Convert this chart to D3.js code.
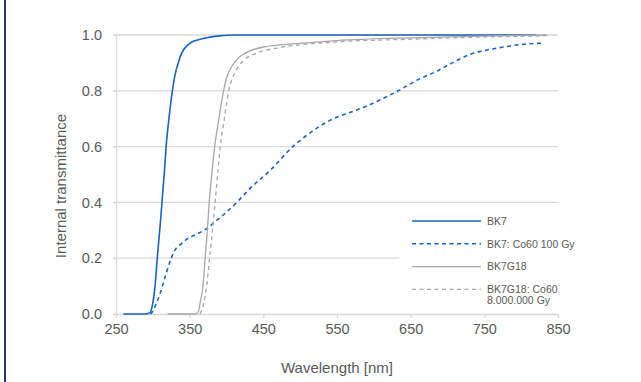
<!DOCTYPE html>
<html>
<head>
<meta charset="utf-8">
<script src="https://cdn.jsdelivr.net/npm/d3@7"></script>
<style>
  body { margin: 0; background: #fff; }
  svg text { font-family: "Liberation Sans", Arial, sans-serif; fill: #595959; }
  .axis path, .axis line { stroke: #d9d9d9; stroke-width: 1.3; }
  .axis text { font-size: 14.5px; fill: #595959; }
  .grid line { stroke: #d9d9d9; stroke-width: 1.3; }
</style>
</head>
<body>
<div id="chart"></div>
<script>
// data
const xTicks = [250, 350, 450, 550, 650, 750, 850];
const yTicks = [0, 0.2, 0.4, 0.6, 0.8, 1.0];

const bk7 = [
  [260, 0], [290, 0], [296, 0.005], [300, 0.04], [303, 0.1], [306, 0.2], [310, 0.32],
  [313, 0.42], [316, 0.52], [318, 0.6], [321, 0.68], [324, 0.75], [326.5, 0.8],
  [330, 0.855], [334.5, 0.9], [338, 0.928], [342, 0.948], [347, 0.963], [353, 0.975],
  [363, 0.984], [373, 0.99], [390, 0.997], [410, 1.0], [820, 1.0]
];
const bk7Co60 = [
  [297, 0], [300, 0.01], [305, 0.04], [310, 0.074], [316, 0.127], [325, 0.2],
  [330, 0.229], [339, 0.252], [346, 0.268], [357, 0.283], [373, 0.306], [387, 0.336],
  [400, 0.365], [414, 0.4], [430, 0.445], [459, 0.514], [490, 0.6], [515, 0.652],
  [541, 0.695], [565, 0.72], [590, 0.745], [612, 0.772], [633, 0.8], [660, 0.84], [686, 0.871],
  [710, 0.905], [731, 0.931], [755, 0.947], [776, 0.957], [800, 0.966], [830, 0.971]
];
const bk7g18 = [
  [320, 0], [358, 0], [362, 0.01], [364, 0.038], [368, 0.1], [371, 0.2], [374, 0.3],
  [376.5, 0.4], [380, 0.5], [384, 0.6], [389, 0.69], [392, 0.74], [396, 0.8],
  [400, 0.845], [405, 0.877], [414, 0.912], [427, 0.937], [450, 0.957], [495, 0.969], [550, 0.98],
  [650, 0.99], [750, 0.996], [835, 1.0]
];
const bk7g18Co60 = [
  [364, 0], [369, 0.038], [373, 0.1], [377, 0.2], [381, 0.3], [384.5, 0.4],
  [388, 0.5], [391.5, 0.6], [396.5, 0.69], [403, 0.8], [411.7, 0.867], [423, 0.908],
  [443, 0.937], [473, 0.955], [531, 0.972], [650, 0.985], [750, 0.993], [833, 0.997]
];

const seriesNames = ["BK7", "BK7: Co60 100 Gy", "BK7G18", "BK7G18: Co60|8.000.000 Gy"];

const W = 641, H = 382;
const margin = { top: 35, right: 83, bottom: 68, left: 116 };
const width = W - margin.left - margin.right;
const height = H - margin.top - margin.bottom;

const series = [
  { name: seriesNames[0], data: bk7, color: "#1563c4", width: 1.6, dash: null },
  { name: seriesNames[1], data: bk7Co60, color: "#1563c4", width: 1.6, dash: "4,3.5" },
  { name: seriesNames[2], data: bk7g18, color: "#a6a6a6", width: 1.3, dash: null },
  { name: seriesNames[3], data: bk7g18Co60, color: "#a6a6a6", width: 1.3, dash: "4,3.5" }
];

const svg = d3.select("#chart").append("svg")
  .attr("width", W).attr("height", H);

// dark frame edge on the left
svg.append("rect").attr("x", 4).attr("y", 0).attr("width", 2).attr("height", H)
  .attr("fill", "#203864");

const g = svg.append("g").attr("transform", `translate(${margin.left},${margin.top})`);

const x = d3.scaleLinear().domain([250, 850]).range([0, width]);
const y = d3.scaleLinear().domain([0, 1]).range([height, 0]);

// gridlines
g.append("g").attr("class", "grid")
  .selectAll("line").data(yTicks.slice(1)).enter().append("line")
  .attr("x1", -3).attr("x2", width)
  .attr("y1", d => y(d)).attr("y2", d => y(d));

const xAxis = g.append("g").attr("class", "axis")
  .attr("transform", `translate(0,${height})`)
  .call(d3.axisBottom(x).tickValues(xTicks).tickFormat(d3.format("d")).tickSizeInner(4).tickSizeOuter(0).tickPadding(6));
xAxis.select(".domain").attr("d", `M-3,0.5H${width}`);

const yAxis = g.append("g").attr("class", "axis")
  .call(d3.axisLeft(y).tickValues(yTicks).tickFormat(d3.format(".1f")).tickSizeInner(3).tickSizeOuter(0).tickPadding(11));

// lines
const line = d3.line().x(d => x(d[0])).y(d => y(d[1])).curve(d3.curveMonotoneX);

// legend background (covers part of grid)
const legX = 283, legY = 172;
g.append("rect").attr("x", legX).attr("y", legY).attr("width", width - legX + 1).attr("height", height - legY - 3)
  .attr("fill", "#fff");

g.selectAll(".series").data(series).enter().append("path")
  .attr("class", "series")
  .attr("d", d => line(d.data))
  .attr("fill", "none")
  .attr("stroke", d => d.color)
  .attr("stroke-width", d => d.width)
  .attr("stroke-dasharray", d => d.dash);

// legend
const leg = g.append("g").attr("transform", `translate(296,186)`);
const item = leg.selectAll(".item").data(series).enter().append("g")
  .attr("transform", (d, i) => `translate(0,${i * 22.8})`);
item.append("line")
  .attr("x1", 0).attr("x2", 69).attr("y1", 0).attr("y2", 0)
  .attr("stroke", d => d.color)
  .attr("stroke-width", d => d.width)
  .attr("stroke-dasharray", d => d.dash);
item.append("text")
  .attr("x", 75).attr("y", 3.8)
  .style("font-size", "10.5px")
  .each(function(d) {
    const parts = d.name.split("|");
    d3.select(this).selectAll("tspan").data(parts).enter().append("tspan")
      .attr("x", 75).attr("dy", (p, i) => i ? 10.5 : 0)
      .text(p => p);
  });

// axis titles
g.append("text")
  .attr("x", width / 2).attr("y", height + 59)
  .attr("text-anchor", "middle")
  .style("font-size", "15px")
  .text("Wavelength [nm]");
g.append("text")
  .attr("transform", `translate(${66 - margin.left},${186 - margin.top}) rotate(-90)`)
  .attr("text-anchor", "middle")
  .style("font-size", "15px")
  .text("Internal transmittance");
</script>
</body>
</html>
